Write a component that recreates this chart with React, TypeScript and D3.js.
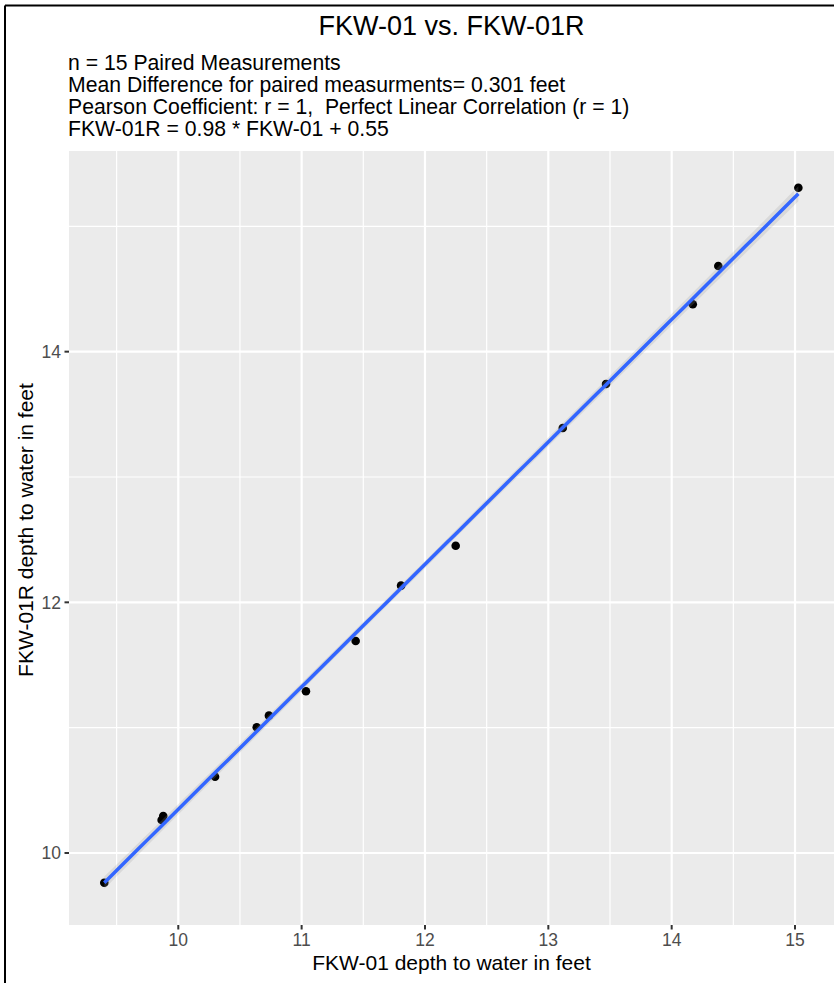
import React from "react";
import * as d3 from "d3";

// ---- Data ----
const xValues = [9.400, 9.865, 9.878, 10.298, 10.636, 10.735, 11.035, 11.438, 11.806, 12.249, 13.117, 13.468, 14.171, 14.378, 15.027];
const yValues = [9.763, 10.263, 10.295, 10.609, 11.003, 11.096, 11.290, 11.692, 12.133, 12.452, 13.391, 13.742, 14.378, 14.684, 15.308];
const xTicks = [10, 11, 12, 13, 14, 15];
const xMinor = [9.5, 10.5, 11.5, 12.5, 13.5, 14.5];
const yTicks = [10, 12, 14];
const yMinor = [11, 13, 15];
const titleText = "FKW-01 vs. FKW-01R";
const subtitleLines = [
  "n = 15 Paired Measurements",
  "Mean Difference for paired measurments= 0.301 feet",
  "Pearson Coefficient: r = 1,  Perfect Linear Correlation (r = 1)",
  "FKW-01R = 0.98 * FKW-01 + 0.55",
];
const xTitle = "FKW-01 depth to water in feet";
const yTitle = "FKW-01R depth to water in feet";
const xDomain = [9.114, 15.316];
const yDomain = [9.4255, 15.601];

const W = 834;
const H = 983;
const P = { left: 69, right: 834, top: 151, bottom: 925 };
const FONT = "'Liberation Sans', Arial, Helvetica, sans-serif";

export default function App() {
  const x = d3.scaleLinear().domain(xDomain).range([P.left, P.right]);
  const y = d3.scaleLinear().domain(yDomain).range([P.bottom, P.top]);

  // linear regression with 95% confidence band (like geom_smooth(method="lm"))
  const n = xValues.length;
  const mx = d3.mean(xValues)!;
  const my = d3.mean(yValues)!;
  let sxx = 0, sxy = 0;
  for (let i = 0; i < n; i++) {
    sxx += (xValues[i] - mx) ** 2;
    sxy += (xValues[i] - mx) * (yValues[i] - my);
  }
  const slope = sxy / sxx;
  const intercept = my - slope * mx;
  let sse = 0;
  for (let i = 0; i < n; i++) sse += (yValues[i] - (intercept + slope * xValues[i])) ** 2;
  const s = Math.sqrt(sse / (n - 2));
  const tq = 2.160;
  const [x0, x1] = d3.extent(xValues) as [number, number];
  const grid = d3.range(80).map((i) => x0 + ((x1 - x0) * i) / 79);
  const band = grid.map((gx) => {
    const fit = intercept + slope * gx;
    const se = s * Math.sqrt(1 / n + (gx - mx) ** 2 / sxx);
    return { gx, fit, lo: fit - tq * se, hi: fit + tq * se };
  });
  const area = d3
    .area<any>()
    .x((d) => x(d.gx))
    .y0((d) => y(d.lo))
    .y1((d) => y(d.hi));
  const line = d3
    .line<any>()
    .x((d) => x(d.gx))
    .y((d) => y(d.fit));

  return (
    <svg
      width={W}
      height={H}
      style={{ position: "absolute", left: 0, top: 0, background: "#fff" }}
      fontFamily={FONT}
    >
      <defs>
        <clipPath id="panel">
          <rect x={P.left} y={P.top} width={P.right - P.left} height={P.bottom - P.top} />
        </clipPath>
      </defs>
      <rect x={0} y={0} width={W} height={H} fill="#fff" />
      {/* outer border (left + top visible) */}
      <line x1={5} y1={5.5} x2={W} y2={5.5} stroke="#000" strokeWidth={2} />
      <line x1={5} y1={5.5} x2={5} y2={H} stroke="#000" strokeWidth={2} />

      {/* title + subtitle */}
      <text x={(P.left + P.right) / 2} y={35} fontSize={27} textAnchor="middle" fill="#000">
        {titleText}
      </text>
      {subtitleLines.map((t, i) => (
        <text key={i} x={68} y={69.5 + i * 22} fontSize={21.2} fill="#000" style={{ whiteSpace: "pre" }}>
          {t}
        </text>
      ))}

      {/* panel */}
      <rect x={P.left} y={P.top} width={P.right - P.left} height={P.bottom - P.top} fill="#EBEBEB" />
      <g clipPath="url(#panel)">
        {xMinor.map((v) => (
          <line key={"xm" + v} x1={x(v)} x2={x(v)} y1={P.top} y2={P.bottom} stroke="#fff" strokeWidth={1.2} />
        ))}
        {yMinor.map((v) => (
          <line key={"ym" + v} y1={y(v)} y2={y(v)} x1={P.left} x2={P.right} stroke="#fff" strokeWidth={1.2} />
        ))}
        {xTicks.map((v) => (
          <line key={"xM" + v} x1={x(v)} x2={x(v)} y1={P.top} y2={P.bottom} stroke="#fff" strokeWidth={2.2} />
        ))}
        {yTicks.map((v) => (
          <line key={"yM" + v} y1={y(v)} y2={y(v)} x1={P.left} x2={P.right} stroke="#fff" strokeWidth={2.2} />
        ))}
        {xValues.map((v, i) => (
          <circle key={"p" + i} cx={x(v)} cy={y(yValues[i])} r={4.3} fill="#000" />
        ))}
        <path d={area(band)!} fill="#999999" fillOpacity={0.22} />
        <path d={line(band)!} fill="none" stroke="#3366FF" strokeWidth={3.5} />
      </g>

      {/* x axis */}
      {xTicks.map((v) => (
        <g key={"xt" + v}>
          <line x1={x(v)} x2={x(v)} y1={P.bottom} y2={P.bottom + 4.5} stroke="#333" strokeWidth={2} />
          <text x={x(v)} y={946} fontSize={17.5} textAnchor="middle" fill="#4D4D4D">
            {v}
          </text>
        </g>
      ))}
      {/* y axis */}
      {yTicks.map((v) => (
        <g key={"yt" + v}>
          <line x1={P.left - 4.5} x2={P.left} y1={y(v)} y2={y(v)} stroke="#333" strokeWidth={2} />
          <text x={61} y={y(v) + 6.2} fontSize={17.5} textAnchor="end" fill="#4D4D4D">
            {v}
          </text>
        </g>
      ))}

      <text x={(P.left + P.right) / 2} y={970} fontSize={21} textAnchor="middle" fill="#000">
        {xTitle}
      </text>
      <text transform={`translate(33,530) rotate(-90)`} fontSize={21} textAnchor="middle" fill="#000">
        {yTitle}
      </text>
    </svg>
  );
}
